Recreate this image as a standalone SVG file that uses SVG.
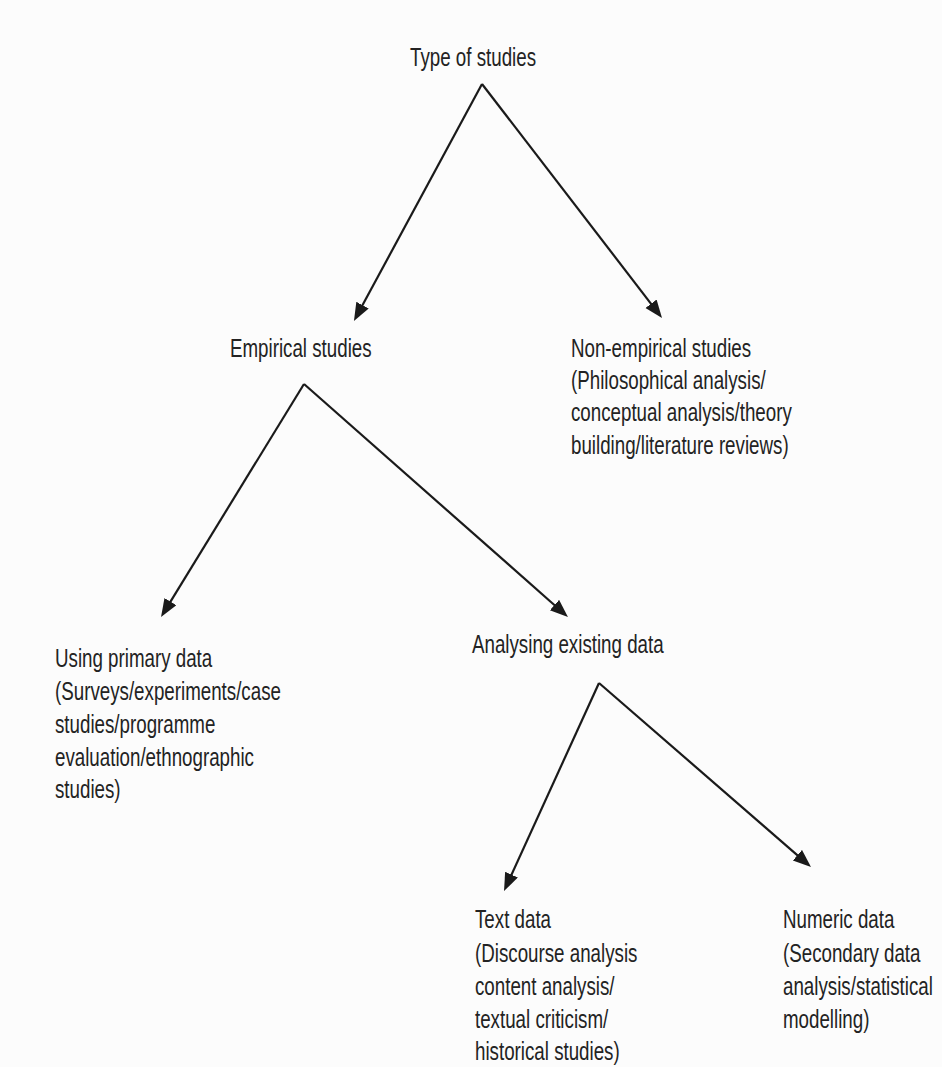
<svg xmlns="http://www.w3.org/2000/svg" width="942" height="1067" viewBox="0 0 942 1067">
<style>
  text { font-family: "Liberation Sans", Arial, sans-serif; font-size: 25px; fill: #232323; }
  .conn { fill: none; stroke: #1a1a1a; stroke-width: 2.2; marker-end: url(#arrow); }
</style>
<defs>
  <marker id="arrow" markerUnits="userSpaceOnUse" markerWidth="20" markerHeight="16" refX="7" refY="7" orient="auto">
    <path d="M0,0 L18,7 L0,14 Z" fill="#1a1a1a"/>
  </marker>
</defs>
<rect width="942" height="1067" fill="#fcfcfc"/>
<g id="connectors">
  <path class="conn" d="M482,84 L359.2,311.3"/>
  <path class="conn" d="M482,84 L655.3,309.3"/>
  <path class="conn" d="M304,384 L166.8,607.6"/>
  <path class="conn" d="M304,384 L559.7,609.7"/>
  <path class="conn" d="M599,683 L508.6,881"/>
  <path class="conn" d="M599,683 L802.7,859.8"/>
</g>
<g id="type-of-studies" transform="translate(410,0) scale(0.75,1)"><text x="0" y="66">Type of studies</text></g>
<g id="empirical-studies" transform="translate(230,0) scale(0.75,1)"><text x="0" y="357">Empirical studies</text></g>
<g id="non-empirical-studies" transform="translate(571,0) scale(0.75,1)">
  <text x="0" y="357">Non-empirical studies</text>
  <text x="0" y="389">(Philosophical analysis/</text>
  <text x="0" y="421.5">conceptual analysis/theory</text>
  <text x="0" y="454">building/literature reviews)</text>
</g>
<g id="using-primary-data" transform="translate(55,0) scale(0.75,1)">
  <text x="0" y="667">Using primary data</text>
  <text x="0" y="700">(Surveys/experiments/case</text>
  <text x="0" y="733">studies/programme</text>
  <text x="0" y="766">evaluation/ethnographic</text>
  <text x="0" y="798">studies)</text>
</g>
<g id="analysing-existing-data" transform="translate(472,0) scale(0.75,1)"><text x="0" y="653">Analysing existing data</text></g>
<g id="text-data" transform="translate(475,0) scale(0.75,1)">
  <text x="0" y="928">Text data</text>
  <text x="0" y="962">(Discourse analysis</text>
  <text x="0" y="995">content analysis/</text>
  <text x="0" y="1028">textual criticism/</text>
  <text x="0" y="1060">historical studies)</text>
</g>
<g id="numeric-data" transform="translate(783,0) scale(0.75,1)">
  <text x="0" y="928">Numeric data</text>
  <text x="0" y="962">(Secondary data</text>
  <text x="0" y="995">analysis/statistical</text>
  <text x="0" y="1028">modelling)</text>
</g>
</svg>
